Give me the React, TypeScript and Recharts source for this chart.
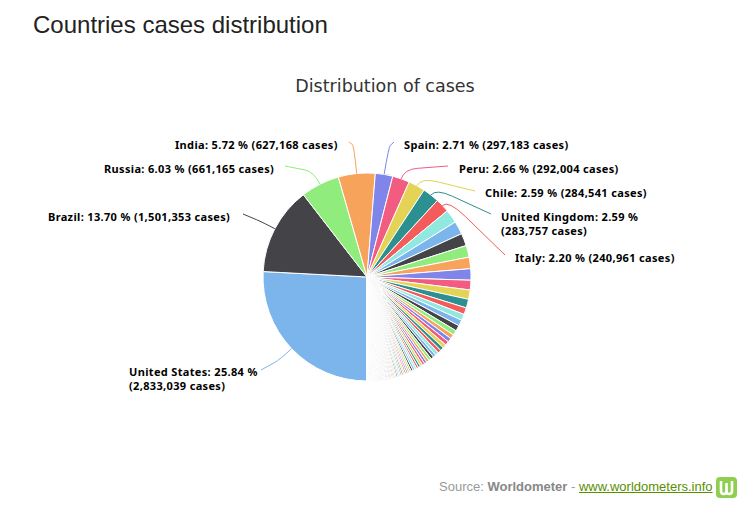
import React from "react";
import { PieChart, Pie, Cell } from "recharts";

const labelledNames = ["United States", "Brazil", "Russia", "India", "Spain", "Peru", "Chile", "United Kingdom", "Italy"];
const labelledCases = [2833039, 1501353, 661165, 627168, 297183, 292004, 284541, 283757, 240961];
const labelledPercents = ["25.84", "13.70", "6.03", "5.72", "2.71", "2.66", "2.59", "2.59", "2.20"];
const otherCases = [
  230000, 224000, 213000, 200000, 196000, 194000, 165000, 159000, 149000,
  115000, 106000, 103000, 97000, 83000, 74000, 69000, 68000, 63000, 62000, 58000,
  57000, 50000, 49000, 47000, 45000, 44000, 42000, 41000, 38000, 36000,
  35000, 34000, 33000, 32000, 29000, 28000, 27000, 26500, 26000, 25500,
  25000, 24000, 23000, 22000, 20500, 19500, 19000, 18500, 18000, 17500,
  17000, 16500, 16000, 15500, 15000, 14500, 14000, 13500, 13000, 12500,
  12000, 11500, 11000, 10500, 10000, 9500, 9000, 8800, 8500, 8200,
  8000, 7700, 7400, 7100, 6800, 6500, 6200, 6000, 5700, 5400,
  5100, 4800, 4500, 4200, 4000, 3800, 3500, 3200, 3000, 2700,
  2400, 2100, 1900, 1600, 1300, 1000, 800, 500, 300,
];
const palette = ["#7cb5ec", "#434348", "#90ed7d", "#f7a35c", "#8085e9", "#f15c80", "#e4d354", "#2b908f", "#f45b5b", "#91e8e1"];

const rows = [
  ...labelledNames.map((name, i) => ({ name, cases: labelledCases[i] })),
  ...otherCases.map((cases, i) => ({ name: `Other ${i + 1}`, cases })),
];

const fmt = (n: number) => n.toLocaleString("en-US");

// label placement: text start, baseline, connector end, and how far the connector runs out radially before bending
const placement: { x: number; y: number; ex: number; ey: number; reach: number; wrap?: boolean }[] = [
  { x: 129, y: 376, ex: 261, ey: 370, reach: 16, wrap: true },
  { x: 48, y: 221, ex: 243, ey: 214, reach: 14 },
  { x: 104, y: 173, ex: 285, ey: 166, reach: 14 },
  { x: 175, y: 149, ex: 349, ey: 142, reach: 28 },
  { x: 404, y: 149, ex: 394, ey: 142, reach: 28 },
  { x: 459, y: 173, ex: 448, ey: 166, reach: 10 },
  { x: 485, y: 197, ex: 475, ey: 191, reach: 9 },
  { x: 501, y: 221, ex: 491, ey: 214, reach: 8, wrap: true },
  { x: 515, y: 262, ex: 505, ey: 255, reach: 8 },
];

const labelFont = "'Noto Sans', sans-serif";
const titleFont = "'DejaVu Sans', sans-serif";

function renderLabel(props: any) {
  const { index, cx, cy, midAngle, outerRadius } = props;
  if (index >= placement.length) return <g key={index} />;
  const p = placement[index];
  const rad = (Math.PI / 180) * midAngle;
  const rimX = cx + outerRadius * Math.cos(rad);
  const rimY = cy - outerRadius * Math.sin(rad);
  const cX = cx + (outerRadius + p.reach) * Math.cos(rad);
  const cY = cy - (outerRadius + p.reach) * Math.sin(rad);
  const tX = cX + (p.ex - cX) * 0.3;
  const tY = cY + (p.ey - cY) * 0.3;
  const name = labelledNames[index];
  const pct = labelledPercents[index];
  const cs = `(${fmt(labelledCases[index])} cases)`;
  const head = `${name}: ${pct} %`;
  const textStyle = { fontFamily: labelFont, fontSize: 11, fontWeight: 700, letterSpacing: 0.34, fill: "#000" };
  return (
    <g key={index}>
      <path d={`M ${p.ex} ${p.ey} L ${tX} ${tY} Q ${cX} ${cY} ${rimX} ${rimY}`} fill="none" stroke={palette[index % palette.length]} strokeWidth={1} />
      {p.wrap ? (
        <text x={p.x} y={p.y} style={textStyle}>
          <tspan x={p.x}>{head}</tspan>
          <tspan x={p.x} dy={14}>{cs}</tspan>
        </text>
      ) : (
        <text x={p.x} y={p.y} style={textStyle}>{`${head} ${cs}`}</text>
      )}
    </g>
  );
}

export default function App() {
  return (
    <div style={{ position: "absolute", left: 0, top: 0, width: 756, height: 527, background: "#fff", overflow: "hidden" }}>
      <PieChart width={756} height={527} margin={{ top: 0, right: 0, bottom: 0, left: 0 }} style={{ position: "absolute", left: 0, top: 0 }}>
        <text x={385} y={92} textAnchor="middle" style={{ fontFamily: titleFont, fontSize: 17.5, fill: "#333" }}>
          Distribution of cases
        </text>
        <Pie
          data={rows}
          dataKey="cases"
          nameKey="name"
          cx={367}
          cy={277}
          outerRadius={104}
          innerRadius={0}
          startAngle={270}
          endAngle={-90}
          stroke="#fff"
          strokeWidth={1}
          label={renderLabel}
          labelLine={false}
          isAnimationActive={false}
        >
          {rows.map((r, i) => (
            <Cell key={r.name} fill={palette[i % palette.length]} />
          ))}
        </Pie>
      </PieChart>
      <div style={{ position: "absolute", left: 33, top: 10, fontFamily: "'Liberation Sans', Arial, sans-serif", fontSize: 24, lineHeight: "30px", color: "#222" }}>
        Countries cases distribution
      </div>
      <div style={{ position: "absolute", left: 439, top: 478, fontFamily: "'Liberation Sans', Arial, sans-serif", fontSize: 13, lineHeight: "17px", color: "#999", whiteSpace: "nowrap" }}>
        Source: <b style={{ color: "#888" }}>Worldometer</b> - <a href="#" style={{ color: "#5a8f00", textDecoration: "underline" }}>www.worldometers.info</a>
      </div>
      <svg width={21} height={21} style={{ position: "absolute", left: 716, top: 477 }}>
        <rect x={0} y={0} width={21} height={21} rx={4} fill="#8fce4f" />
        <path d="M5 4 V14 Q5 17 8 17 Q10.5 17 10.5 14 V6 V14 Q10.5 17 13 17 Q16 17 16 14 V4" fill="none" stroke="#fff" strokeWidth={2.6} />
      </svg>
    </div>
  );
}
